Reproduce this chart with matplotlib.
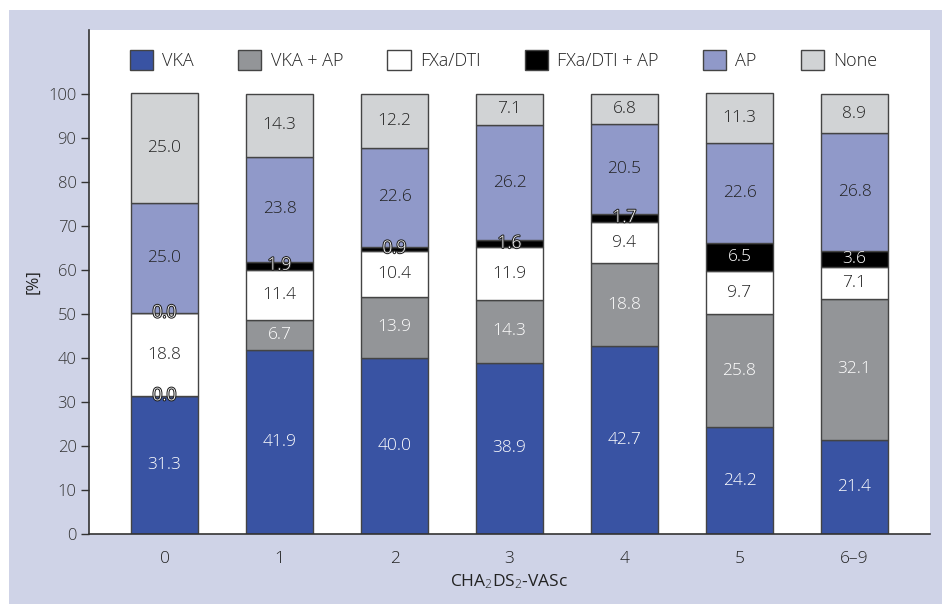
import numpy as np
import matplotlib
matplotlib.use("Agg")
import matplotlib.pyplot as plt
import matplotlib.patheffects as pe
from matplotlib.patches import Rectangle

plt.rcParams.update({
    'font.family': ['Open Sans', 'DejaVu Sans'],
    'font.weight': 'light',
    'font.size': 12,
    'mathtext.fontset': 'custom',
    'mathtext.rm': 'Open Sans:light',
    'mathtext.it': 'Open Sans:light',
    'text.color': '#222222',
    'axes.labelcolor': '#222222',
    'xtick.color': '#222222',
    'ytick.color': '#333333',
})

categories = ['0', '1', '2', '3', '4', '5', '6–9']
series_names = ['VKA', 'VKA + AP', 'FXa/DTI', 'FXa/DTI + AP', 'AP', 'None']
vka = [31.3, 41.9, 40.0, 38.9, 42.7, 24.2, 21.4]
vka_ap = [0.0, 6.7, 13.9, 14.3, 18.8, 25.8, 32.1]
fxa = [18.8, 11.4, 10.4, 11.9, 9.4, 9.7, 7.1]
fxa_ap = [0.0, 1.9, 0.9, 1.6, 1.7, 6.5, 3.6]
ap = [25.0, 23.8, 22.6, 26.2, 20.5, 22.6, 26.8]
none = [25.0, 14.3, 12.2, 7.1, 6.8, 11.3, 8.9]

series = [vka, vka_ap, fxa, fxa_ap, ap, none]
colors = ['#3953a3', '#939598', '#ffffff', '#000000', '#9099c9', '#d1d3d5']
text_colors = ['white', 'white', '#222222', 'white', '#222222', '#222222']

fig = plt.figure(figsize=(9.42, 6.04), dpi=100)
fig.patch.set_facecolor('white')
# lavender frame behind the plot panel
fig.patches.append(Rectangle((9 / 942, 0), 1, (604 - 10) / 604,
                             transform=fig.transFigure, facecolor='#cfd3e7',
                             edgecolor='none', zorder=-10))

ax = fig.add_axes([89 / 942, 70 / 604, 841 / 942, 504 / 604])
ax.set_facecolor('white')

x = np.arange(len(categories))
bottom = np.zeros(len(categories))
for vals, name, col, tcol in zip(series, series_names, colors, text_colors):
    vals = np.array(vals)
    ax.bar(x, vals, width=0.583, bottom=bottom, color=col,
           edgecolor='#444444', linewidth=1.0, label=name, zorder=2)
    for xi, b, v in zip(x, bottom, vals):
        y = b + v / 2
        if v < 3:
            # tiny segments: white text with a dark rim, spills over neighbours
            t = ax.text(xi, y, f'{v:.1f}', ha='center', va='center',
                        color='white', fontsize=12.5, zorder=4)
            t.set_path_effects([pe.withStroke(linewidth=1.5, foreground='#222222')])
        else:
            ax.text(xi, y, f'{v:.1f}', ha='center', va='center',
                    color=tcol, fontsize=12.5, zorder=4)
    bottom = bottom + vals

ax.set_xlim(-0.657, len(categories) - 1 + 0.657)
ax.set_ylim(0, 114.5)
ax.set_yticks(np.arange(0, 101, 10))
ax.set_xticks(x)
ax.set_xticklabels(categories, fontsize=12.5)
ax.tick_params(axis='x', length=0, pad=12)
ax.tick_params(axis='y', length=6, width=1, direction='out', labelsize=12, pad=3)
for s in ['top', 'right']:
    ax.spines[s].set_visible(False)
for s in ['left', 'bottom']:
    ax.spines[s].set_color('#333333')
    ax.spines[s].set_linewidth(1.2)

ax.set_ylabel('[%]', fontsize=12, labelpad=5)
ax.set_xlabel(r'CHA$_2$DS$_2$-VASc', fontsize=12.5, labelpad=4)

ax.legend(loc='center', bbox_to_anchor=(0.493, 0.940), ncol=6, frameon=False,
          fontsize=13, handlelength=1.3, handleheight=1.3, handletextpad=0.5,
          columnspacing=2.45)

fig.savefig('out.png', dpi=100)
